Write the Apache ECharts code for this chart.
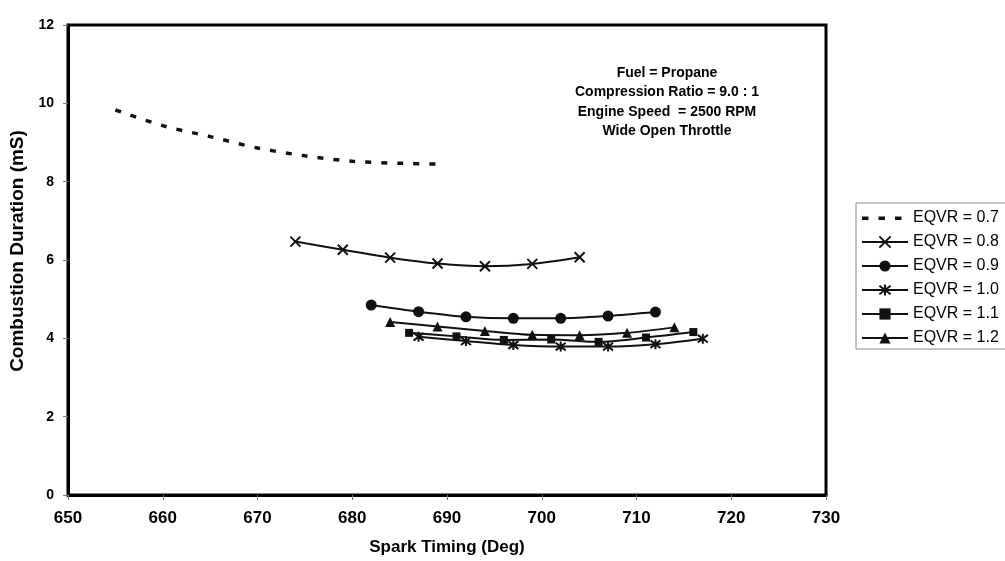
<!DOCTYPE html>
<html>
<head>
<meta charset="utf-8">
<script src="https://cdn.jsdelivr.net/npm/echarts@6/dist/echarts.min.js"></script>
<style>html,body{margin:0;padding:0;background:#fff}#c{width:1005px;height:561px}</style>
</head>
<body>
<div id="c"></div>
<script>
const xTicks = [650, 660, 670, 680, 690, 700, 710, 720, 730];
const yTicks = [0, 2, 4, 6, 8, 10, 12];
const seriesNames = ['EQVR = 0.7', 'EQVR = 0.8', 'EQVR = 0.9', 'EQVR = 1.0', 'EQVR = 1.1', 'EQVR = 1.2'];
const eq07x = [655, 660, 665, 670, 675, 680, 685, 689];
const eq07y = [9.83, 9.43, 9.15, 8.86, 8.66, 8.52, 8.47, 8.45];
const eq08x = [674, 679, 684, 689, 694, 699, 704];
const eq08y = [6.47, 6.26, 6.06, 5.91, 5.84, 5.90, 6.07];
const eq09x = [682, 687, 692, 697, 702, 707, 712];
const eq09y = [4.85, 4.68, 4.55, 4.51, 4.51, 4.57, 4.67];
const eq10x = [687, 692, 697, 702, 707, 712, 717];
const eq10y = [4.04, 3.93, 3.83, 3.79, 3.79, 3.85, 3.99];
const eq11x = [686, 691, 696, 701, 706, 711, 716];
const eq11y = [4.14, 4.05, 3.96, 3.97, 3.91, 4.02, 4.16];
const eq12x = [684, 689, 694, 699, 704, 709, 714];
const eq12y = [4.42, 4.30, 4.19, 4.09, 4.08, 4.14, 4.28];
const annotation = ['Fuel = Propane', 'Compression Ratio = 9.0 : 1', 'Engine Speed  = 2500 RPM', 'Wide Open Throttle'];

const zip = (xs, ys) => xs.map((x, i) => [x, ys[i]]);
const FONT = '"Liberation Sans", Arial, Helvetica, sans-serif';
const crossPath = 'path://M0,0L10,10M10,0L0,10';
const starPath = 'path://M0,0L10,10M10,0L0,10M5,-1.5L5,11.5';
const dashIcon = 'path://M0,0L0,0M46,14L46,14M0,5.5h6.5v3.5h-6.5zM16.5,5.5h6.5v3.5h-6.5zM33,5.5h6.5v3.5h-6.5z';

function mk(name, data, symbol, size, extra) {
  return Object.assign({
    name: name, type: 'line', data: data, smooth: 0.3,
    symbol: symbol, symbolSize: size,
    lineStyle: { color: '#111', width: 2 },
    itemStyle: { color: '#111', borderColor: '#111', borderWidth: 0 },
    emphasis: { disabled: true },
    z: 3
  }, extra || {});
}

const legendData = seriesNames.map((n, i) => i === 0 ? { name: n, icon: dashIcon } : { name: n });

const chart = echarts.init(document.getElementById('c'), null, { renderer: 'canvas' });
chart.setOption({
  animation: false,
  backgroundColor: '#fff',
  grid: { left: 68, right: 179, top: 25, bottom: 65, show: true, borderColor: '#000', borderWidth: 3, backgroundColor: 'transparent' },
  xAxis: {
    type: 'value', min: xTicks[0], max: xTicks[xTicks.length - 1], interval: 10,
    name: 'Spark Timing (Deg)', nameLocation: 'middle', nameGap: 44,
    nameTextStyle: { fontFamily: FONT, fontWeight: 'bold', fontSize: 17, color: '#000' },
    axisLine: { show: true, lineStyle: { color: '#000', width: 3 } },
    axisTick: { show: true, length: 5, lineStyle: { color: '#777', width: 1 } },
    axisLabel: { fontFamily: FONT, fontWeight: 'bold', fontSize: 17, color: '#000', margin: 15 },
    splitLine: { show: false }
  },
  yAxis: {
    type: 'value', min: yTicks[0], max: yTicks[yTicks.length - 1], interval: 2,
    name: 'Combustion Duration (mS)', nameLocation: 'middle', nameGap: 38,
    nameTextStyle: { fontFamily: FONT, fontWeight: 'bold', fontSize: 19, color: '#000', padding: [0, 0, 0, 18] },
    axisLine: { show: true, lineStyle: { color: '#000', width: 3 } },
    axisTick: { show: true, length: 5, lineStyle: { color: '#777', width: 1 } },
    axisLabel: { fontFamily: FONT, fontWeight: 'bold', fontSize: 14, color: '#000', margin: 14 },
    splitLine: { show: false }
  },
  legend: {
    orient: 'vertical', left: 856, top: 203,
    padding: [6, 30, 2, 5], itemGap: 6, itemWidth: 46, itemHeight: 14,
    borderColor: '#888', borderWidth: 1,
    textStyle: { fontFamily: FONT, fontSize: 16, color: '#000', lineHeight: 18 },
    data: legendData
  },
  graphic: [{
    type: 'text', x: 667, y: 63, z: 10,
    style: {
      text: annotation.join('\n'), align: 'center', verticalAlign: 'top',
      font: 'bold 14px ' + FONT, fill: '#000', lineHeight: 19.5
    }
  }],
  series: [
    mk(seriesNames[0], zip(eq07x, eq07y), 'none', 0, { lineStyle: { color: '#111', width: 3.5, type: [6, 10] } }),
    mk(seriesNames[1], zip(eq08x, eq08y), crossPath, 10, { itemStyle: { color: '#111', borderColor: '#111', borderWidth: 2 } }),
    mk(seriesNames[2], zip(eq09x, eq09y), 'circle', 11),
    mk(seriesNames[3], zip(eq10x, eq10y), starPath, 10, { itemStyle: { color: '#111', borderColor: '#111', borderWidth: 2 } }),
    mk(seriesNames[4], zip(eq11x, eq11y), 'rect', 8),
    mk(seriesNames[5], zip(eq12x, eq12y), 'triangle', 10)
  ]
});
</script>
</body>
</html>
